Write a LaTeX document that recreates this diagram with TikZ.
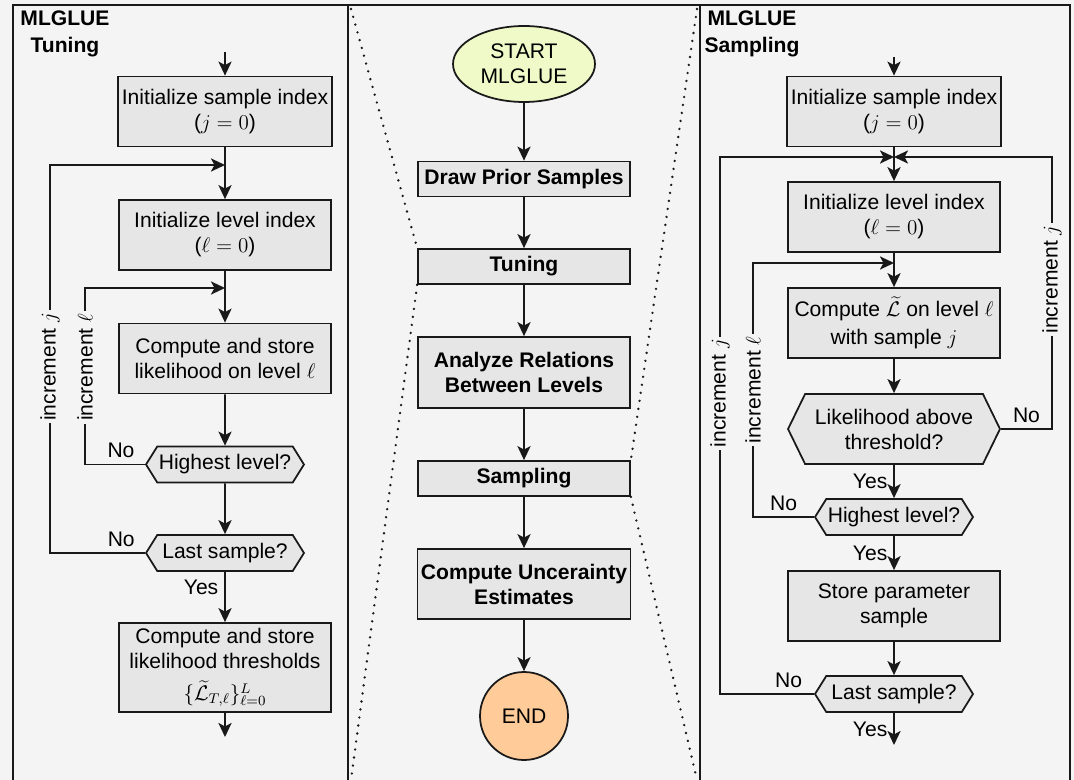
\documentclass[tikz,border=0pt]{standalone}
\usepackage[no-math]{fontspec}
\setmainfont{Liberation Sans}
\usetikzlibrary{arrows.meta,shapes.geometric,shapes.symbols}

\definecolor{bgcol}{RGB}{244,244,244}
\definecolor{boxcol}{RGB}{230,230,230}
\definecolor{startcol}{RGB}{239,250,200}
\definecolor{endcol}{RGB}{255,204,153}
\definecolor{linecol}{RGB}{25,25,25}

\begin{document}
\begin{tikzpicture}[x=0.02cm,y=-0.02cm,
    font=\fontsize{12}{14.2}\selectfont,
    proc/.style={rectangle,draw=linecol,line width=1pt,fill=boxcol,align=center,
        minimum width=4.24cm,minimum height=1.4cm,inner sep=2pt},
    stagebox/.style={proc,minimum height=0.7cm,font=\fontsize{12}{14.2}\selectfont\bfseries},
    mainbox/.style={proc,font=\fontsize{12}{14.2}\selectfont\bfseries},
    ask/.style={signal,signal to=west and east,signal pointer angle=116,draw=linecol,
        line width=1pt,fill=boxcol,minimum width=3.16cm,minimum height=0.72cm,
        inner xsep=0pt,inner ysep=1pt},
    bigask/.style={ask,signal pointer angle=128,minimum width=4.24cm,minimum height=1.4cm,align=center},
    flow/.style={draw=linecol,line width=1pt,-{Stealth[length=8pt,width=7.5pt,inset=2pt]}},
    zoomline/.style={draw=linecol,line width=1.5pt,line cap=round,dash pattern=on 0pt off 4.6pt},
    inc/.style={fill=bgcol,rotate=90,inner sep=1.5pt},
    panelframe/.style={draw=linecol,line width=1pt},
    paneltitle/.style={align=center,font=\fontsize{12}{14.2}\selectfont\bfseries}]

    \useasboundingbox (0,0) rectangle (1074,780);
    \clip (0,0) rectangle (1074,780);
    \fill[bgcol] (0,0) rectangle (1074,780);
    \draw[panelframe] (13,5) rectangle (348,800);
    \draw[panelframe] (348,5) rectangle (700,800);
    \draw[panelframe] (700,5) rectangle (1070,800);

    % tuning panel
    \path
    (65,34) node[paneltitle](ltitle) {MLGLUE\\[1pt]Tuning}
    (225,111.5) node[proc](lsamp) {Initialize sample index\\($j=0$)}
    (225,235) node[proc](llev) {Initialize level index\\($\ell=0$)}
    (225,358.5) node[proc](llik) {Compute and store\\likelihood on level $\ell$}
    (225,464.5) node[ask](lhigh) {Highest level?}
    (225,553) node[ask](llast) {Last sample?}
    (225,667.5) node[proc,minimum height=1.78cm](lthr) {Compute and store\\likelihood thresholds\\[4pt]$\{\widetilde{\mathcal{L}}_{T,\ell}\}_{\ell=0}^{L}$};

    \coordinate (lin) at (225,52);
    \coordinate (ljs) at (225,165);
    \coordinate (ljl) at (225,288);
    \coordinate (lcs) at (50,165);
    \coordinate (lcl) at (85,288);
    \coordinate (lout) at (225,737);

    \draw[flow] (lin) -- (lsamp);
    \draw[flow] (lsamp) -- (llev);
    \draw[flow] (llev) -- (llik);
    \draw[flow] (llik) -- (lhigh);
    \draw[flow] (lhigh) -- (llast);
    \draw[flow] (llast) -- node[left,pos=0.3]{Yes} (lthr);
    \draw[flow] (lthr) -- (lout);
    \draw[flow] (lhigh.west) -- node[above,pos=0.4]{No} (lhigh.west -| lcl)
        -- node[inc,pos=0.55]{increment $\ell$} (lcl) -- (ljl);
    \draw[flow] (llast.west) -- node[above,pos=0.25]{No} (llast.west -| lcs)
        -- node[inc,pos=0.48]{increment $j$} (lcs) -- (ljs);

    % overview panel
    \path
    (524,64) node[ellipse,draw=linecol,line width=1pt,fill=startcol,minimum width=2.84cm,minimum height=1.52cm,inner sep=0pt,align=center](mstart) {START\\MLGLUE}
    (524,179) node[stagebox](mprior) {Draw Prior Samples}
    (524,266.5) node[stagebox](mtune) {Tuning}
    (524,372.5) node[mainbox,minimum height=1.42cm](mrel) {Analyze Relations\\Between Levels}
    (524,478.5) node[stagebox](msamp) {Sampling}
    (524,584) node[mainbox](munc) {Compute Uncerainty\\Estimates}
    (524,716) node[circle,draw=linecol,line width=1pt,fill=endcol,minimum size=1.76cm,inner sep=0pt](mend) {END};

    \coordinate (mtl) at (351,9);
    \coordinate (mbl) at (351,780);
    \coordinate (mtr) at (697,9);
    \coordinate (mbr) at (697,780);

    \draw[flow] (mstart) -- (mprior);
    \draw[flow] (mprior) -- (mtune);
    \draw[flow] (mtune) -- (mrel);
    \draw[flow] (mrel) -- (msamp);
    \draw[flow] (msamp) -- (munc);
    \draw[flow] (munc) -- (mend);

    \draw[zoomline] (mtl) -- (mtune.north west);
    \draw[zoomline] (mtune.south west) -- (mbl);
    \draw[zoomline] (mtr) -- (msamp.north east);
    \draw[zoomline] (msamp.south east) -- (mbr);

    % sampling panel
    \path
    (752,34) node[paneltitle](rtitle) {MLGLUE\\[1pt]Sampling}
    (894,111.5) node[proc](rsamp) {Initialize sample index\\($j=0$)}
    (894,217) node[proc](rlev) {Initialize level index\\($\ell=0$)}
    (894,323) node[proc](rcomp) {Compute $\widetilde{\mathcal{L}}$ on level $\ell$\\[2pt]with sample $j$}
    (894,429) node[bigask](rthr) {Likelihood above\\threshold?}
    (894,517) node[ask](rhigh) {Highest level?}
    (894,606) node[proc](rstore) {Store parameter\\sample}
    (894,694) node[ask](rlast) {Last sample?};

    \coordinate (rin) at (894,57);
    \coordinate (rjs) at (894,157);
    \coordinate (rjl) at (894,263);
    \coordinate (rcs) at (720,157);
    \coordinate (rcl) at (753,263);
    \coordinate (rcr) at (1052,157);
    \coordinate (rout) at (894,745);

    \draw[flow] (rin) -- (rsamp);
    \draw[flow] (rsamp) -- (rlev);
    \draw[flow] (rlev) -- (rcomp);
    \draw[flow] (rcomp) -- (rthr);
    \draw[flow] (rthr) -- node[left]{Yes} (rhigh);
    \draw[flow] (rhigh) -- node[left]{Yes} (rstore);
    \draw[flow] (rstore) -- (rlast);
    \draw[flow] (rlast) -- node[left]{Yes} (rout);
    \draw[flow] (rthr.east) -- node[above]{No} (rthr.east -| rcr)
        -- node[inc,pos=0.55]{increment $j$} (rcr) -- (rjs);
    \draw[flow] (rhigh.west) -- node[above]{No} (rhigh.west -| rcl)
        -- node[inc]{increment $\ell$} (rcl) -- (rjl);
    \draw[flow] (rlast.west) -- node[above,pos=0.27]{No} (rlast.west -| rcs)
        -- node[inc,pos=0.56]{increment $j$} (rcs) -- (rjs);
\end{tikzpicture}
\end{document}
